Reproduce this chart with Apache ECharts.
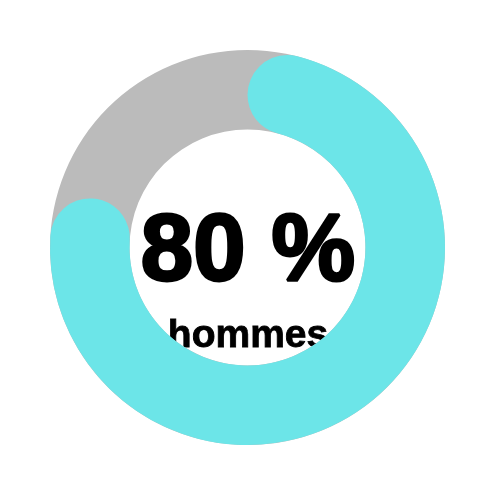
<!DOCTYPE html>
<html>
<head>
<meta charset="utf-8">
<script src="https://cdn.jsdelivr.net/npm/echarts@6/dist/echarts.min.js"></script>
<style>html,body{margin:0;padding:0;background:#fff;}#c{width:500px;height:500px;}</style>
</head>
<body>
<div id="c"></div>
<script>
var categories = ['hommes', 'autres'];
var values = [80, 20];
var total = [100];
var mainLabel = '80 %';
var subLabel = 'hommes';

var chart = echarts.init(document.getElementById('c'), null, {renderer: 'canvas'});
chart.setOption({
  animation: false,
  series: [
    {
      type: 'pie',
      silent: true,
      radius: ['47.2%', '79%'],
      center: ['49.5%', '49.5%'],
      label: {show: false},
      labelLine: {show: false},
      itemStyle: {color: '#BBBBBB'},
      data: [{value: total[0], name: 'fond'}]
    },
    {
      type: 'pie',
      silent: true,
      startAngle: 90,
      clockwise: true,
      radius: ['47.2%', '79%'],
      center: ['49.5%', '49.5%'],
      label: {show: false},
      labelLine: {show: false},
      data: [
        {value: values[0], name: categories[0], itemStyle: {color: '#6CE5E8', borderRadius: 60}},
        {value: values[1], name: categories[1], itemStyle: {color: 'rgba(0,0,0,0)'}}
      ]
    }
  ],
  graphic: [
    {
      type: 'text',
      x: 248, y: 254,
      style: {
        text: mainLabel,
        font: 'bold 94px "Liberation Sans", Arial, sans-serif',
        fill: '#000',
        stroke: '#000',
        lineWidth: 3,
        textAlign: 'center',
        textVerticalAlign: 'middle'
      }
    },
    {
      type: 'text',
      x: 248, y: 336,
      style: {
        text: subLabel,
        font: 'bold 39px "Liberation Sans", Arial, sans-serif',
        fill: '#000',
        stroke: '#000',
        lineWidth: 0.8,
        textAlign: 'center',
        textVerticalAlign: 'middle'
      }
    }
  ]
});
</script>
</body>
</html>
